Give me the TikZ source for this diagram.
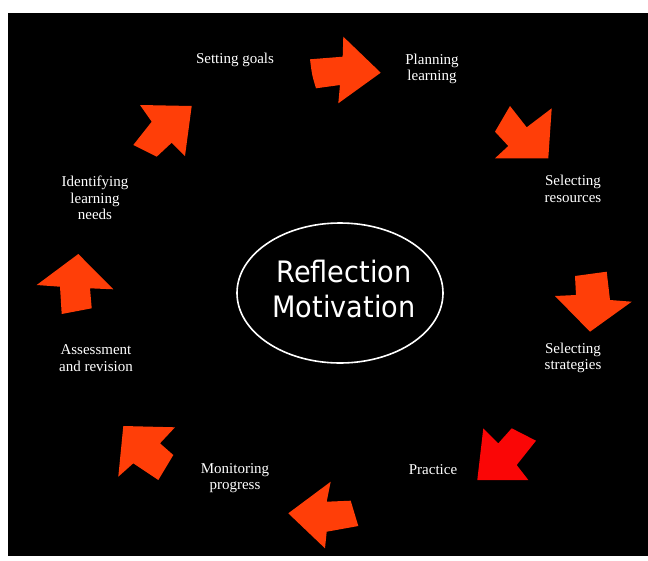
\documentclass[tikz,border=0pt]{standalone}
\usepackage{fontspec}
\usetikzlibrary{shapes.geometric}
\setmainfont{Liberation Serif}
\newfontfamily\hubfont[FakeStretch=0.92]{DejaVu Sans}
\definecolor{arroworange}{RGB}{255,62,8}
\definecolor{arrowred}{RGB}{250,6,6}
\begin{document}
\begin{tikzpicture}[x=1pt,y=-1pt,
  steplabel/.style={text=white,align=center,font=\fontsize{15}{16.5}\selectfont,inner sep=0pt},
  blockarrow/.style={fill=arroworange,draw=none},
  hub/.style={draw=white,line width=1.6pt,ellipse,minimum width=206pt,minimum height=140pt,inner sep=0pt}]
\useasboundingbox (0,0) rectangle (648,560);
\fill[white] (0,0) rectangle (648,560);
\fill[black] (8,13) rectangle (648,556);

% centre ellipse
\node[hub] (core) at (340,293) {};
\node[text=white,align=center,font=\hubfont\fontsize{29.5}{35}\selectfont,inner sep=0pt] (coretext) at (344,289) {Reflection\\Motivation};

% stage labels
\node[steplabel] (goals) at (235,60) {Setting goals};
\node[steplabel] (plan) at (432,69) {Planning\\learning};
\node[steplabel] (res) at (573,189) {Selecting\\resources};
\node[steplabel] (strat) at (573,358) {Selecting\\strategies};
\node[steplabel] (prac) at (433,470) {Practice};
\node[steplabel] (mon) at (235,478) {Monitoring\\progress};
\node[steplabel] (assess) at (96,358) {Assessment\\and revision};
\node[steplabel] (needs) at (95,198) {Identifying\\learning\\needs};

% block arrows around the cycle
\fill[blockarrow] (310,59.3) -- (342.7,56.7) -- (343.3,36.7) -- (380.7,72.7) -- (338.3,103.3) -- (340,85) -- (316,88.3) .. controls (312,75) .. cycle;
\fill[blockarrow] (510,106) -- (526.7,127.3) -- (551.7,108.3) -- (548.3,158.3) -- (495,158.3) -- (508.3,146) -- (495,131.7) -- cycle;
\fill[blockarrow] (575,276) -- (606.7,271.7) -- (610,300) -- (631.7,301.7) -- (590,331.7) -- (555,296) -- (576,295) -- cycle;
\fill[arrowred] (483.3,428.3) -- (498.3,443.3) -- (511.7,428.3) -- (536,440.7) -- (516.7,465) -- (528.3,480) -- (477.3,480) -- cycle;
\fill[blockarrow] (330.7,481.7) -- (326.7,501.7) -- (350.7,500.7) -- (358.3,526) -- (326.7,531.7) -- (325,548.3) -- (288.3,513.3) -- cycle;
\fill[blockarrow] (123.3,426) -- (175,427.3) -- (160,443.3) -- (173.3,455) -- (158.3,480) -- (133.3,463.3) -- (118.3,476.7) -- cycle;
\fill[blockarrow] (78.3,254) -- (113.3,289.3) -- (90,288.3) -- (91.7,308.3) -- (61.7,314) -- (60,286.7) -- (36.7,285) -- cycle;
\fill[blockarrow] (140,105) -- (191.7,106) -- (185,156) -- (171.7,142.7) -- (156.7,156.7) -- (133.3,145) -- (151.7,121.7) -- cycle;
\end{tikzpicture}
\end{document}
